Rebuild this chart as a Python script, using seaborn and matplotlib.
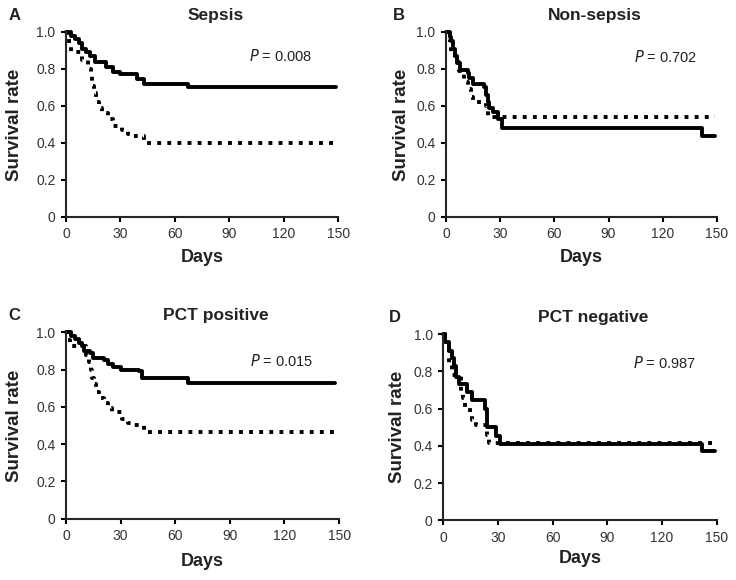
import matplotlib
matplotlib.use("Agg")
import matplotlib.pyplot as plt
import seaborn as sns
import pandas as pd

# ── Kaplan-Meier step data ───────────────────────────────────────────
# solid = one group, dotted = the other; each list is (day, survival) steps
a_sol_t = [0, 3, 5, 7, 9, 11, 13, 16, 22, 26, 30, 39, 43, 67, 148.5]
a_sol_s = [1.0, 0.98, 0.96, 0.94, 0.91, 0.89, 0.87, 0.835, 0.81, 0.785, 0.77, 0.745, 0.72, 0.70, 0.70]
a_dot_t = [0, 0.5, 3, 9, 12, 13.5, 14.5, 15.5, 16.5, 18, 20, 23, 26, 31, 34, 37, 43, 148.5]
a_dot_s = [1.0, 0.95, 0.89, 0.85, 0.80, 0.76, 0.71, 0.67, 0.62, 0.59, 0.56, 0.53, 0.49, 0.47, 0.45, 0.44, 0.40, 0.40]

b_sol_t = [0, 2, 3, 4, 5, 6, 8, 12, 13, 15, 21, 22, 23, 24, 26, 29, 31, 142, 149]
b_sol_s = [1.0, 0.975, 0.95, 0.91, 0.87, 0.83, 0.795, 0.78, 0.75, 0.72, 0.70, 0.66, 0.62, 0.59, 0.565, 0.53, 0.48, 0.435, 0.435]
b_dot_t = [0, 1, 2, 3, 5, 7, 10, 12, 14, 15, 22, 22.7, 23.5, 149]
b_dot_s = [1.0, 0.96, 0.93, 0.89, 0.84, 0.79, 0.73, 0.69, 0.65, 0.62, 0.60, 0.57, 0.54, 0.54]

c_sol_t = [0, 3, 5, 7, 9, 10, 13, 15, 21, 23, 26, 30, 40, 42, 67, 147.5]
c_sol_s = [1.0, 0.98, 0.965, 0.945, 0.925, 0.90, 0.89, 0.86, 0.85, 0.83, 0.815, 0.80, 0.79, 0.755, 0.73, 0.73]
c_dot_t = [0, 1, 2, 11, 12.5, 13.5, 14.5, 15.5, 16.5, 18, 21, 23, 25, 31, 34, 37, 43, 147.5]
c_dot_s = [1.0, 0.96, 0.925, 0.88, 0.84, 0.80, 0.755, 0.72, 0.68, 0.645, 0.62, 0.595, 0.57, 0.535, 0.515, 0.50, 0.465, 0.465]

d_sol_t = [0, 1, 3, 5, 6, 7, 9, 13, 16, 23, 24, 29, 31, 142, 149]
d_sol_s = [1.0, 0.96, 0.91, 0.87, 0.83, 0.77, 0.73, 0.69, 0.645, 0.60, 0.50, 0.455, 0.41, 0.37, 0.37]
d_dot_t = [0, 1, 2, 3, 3.5, 5, 10, 11, 12, 14.5, 16, 18, 24, 25, 148]
d_dot_s = [1.0, 0.97, 0.93, 0.89, 0.84, 0.78, 0.68, 0.655, 0.61, 0.575, 0.54, 0.51, 0.46, 0.415, 0.415]

titles   = ["Sepsis", "Non-sepsis", "PCT positive", "PCT negative"]
letters  = ["A", "B", "C", "D"]
p_values = ["0.008", "0.702", "0.015", "0.987"]

panels = [
    (a_sol_t, a_sol_s, a_dot_t, a_dot_s),
    (b_sol_t, b_sol_s, b_dot_t, b_dot_s),
    (c_sol_t, c_sol_s, c_dot_t, c_dot_s),
    (d_sol_t, d_sol_s, d_dot_t, d_dot_s),
]

# ── Style ─────────────────────────────────────────────────────────────
sns.set_style("ticks")
plt.rcParams["font.family"] = ["Liberation Sans", "DejaVu Sans"]
plt.rcParams["axes.linewidth"] = 1.5

fig = plt.figure(figsize=(7.36, 5.8), dpi=100)

# axes rectangles in figure fraction (left, bottom, width, height)
rects = [
    [0.0897, 0.626, 0.370, 0.319],
    [0.606, 0.626, 0.368, 0.319],
    [0.0897, 0.106, 0.371, 0.321],
    [0.602, 0.103, 0.372, 0.321],
]
ylab_x  = [-0.19, -0.165, -0.19, -0.165]
xlab_y  = [-0.22, -0.22, -0.23, -0.205]
p_pos   = [(101, 0.87), (104, 0.865), (101, 0.845), (104, 0.846)]

for i, (st, ss, dt, ds) in enumerate(panels):
    ax = fig.add_axes(rects[i])
    df = pd.concat([
        pd.DataFrame({"day": st, "surv": ss, "grp": "solid"}),
        pd.DataFrame({"day": dt, "surv": ds, "grp": "dotted"}),
    ], ignore_index=True)
    sns.lineplot(data=df, x="day", y="surv", style="grp",
                 style_order=["dotted", "solid"],
                 dashes={"solid": "", "dotted": (1.0, 1.6)},
                 color="black", linewidth=2.8, drawstyle="steps-post",
                 estimator=None, sort=False, legend=False, ax=ax,
                 clip_on=False)
    for ln in ax.get_lines():
        ln.set_dash_capstyle("butt")

    ax.set_xlim(0, 150)
    ax.set_ylim(0, 1.0)
    ax.set_xticks([0, 30, 60, 90, 120, 150])
    ax.set_yticks([0, 0.2, 0.4, 0.6, 0.8, 1.0])
    ax.set_yticklabels(["0", "0.2", "0.4", "0.6", "0.8", "1.0"])
    ax.tick_params(axis="both", labelsize=10, width=1.5, length=3.5,
                   colors="black", labelcolor="#333333", pad=4)
    sns.despine(ax=ax)

    ax.set_xlabel("Days", fontsize=13, fontweight="bold", color="#222222")
    ax.set_ylabel("Survival rate", fontsize=13.5, fontweight="bold", color="#222222")
    ax.xaxis.set_label_coords(0.5, xlab_y[i])
    ax.xaxis.label.set_va("center")
    ax.yaxis.set_label_coords(ylab_x[i], 0.5)
    ax.yaxis.label.set_va("center")

    ax.text(0.548, 1.09, titles[i], transform=ax.transAxes, ha="center",
            va="center", fontsize=12.5, fontweight="bold", color="#222222")
    ax.text(-0.19 if i % 2 == 0 else -0.175, 1.09, letters[i],
            transform=ax.transAxes, ha="center", va="center",
            fontsize=12, fontweight="bold", color="#222222")

    px, py = p_pos[i]
    ax.text(px, py, "$\\mathit{P}$ = " + p_values[i], ha="left", va="center",
            fontsize=10.5, color="#222222")

plt.savefig("out.png", dpi=100)
